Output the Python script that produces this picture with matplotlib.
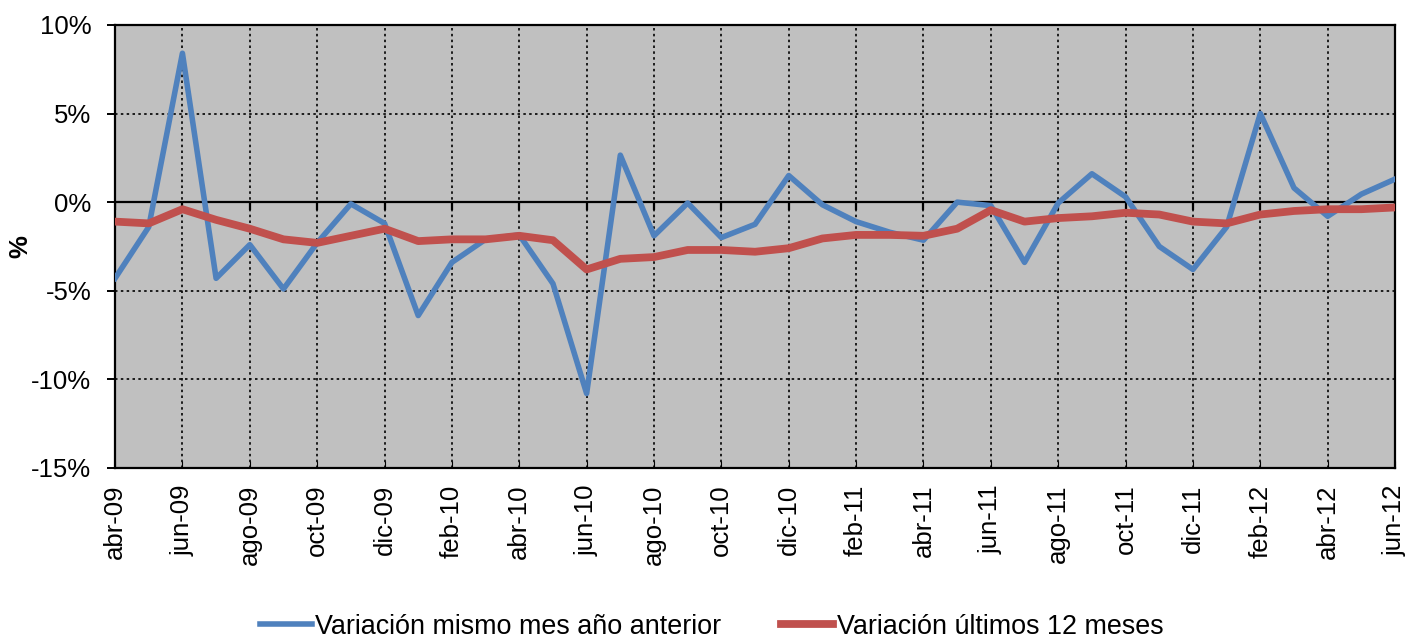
import numpy as np
import matplotlib
matplotlib.use('Agg')
import matplotlib.pyplot as plt

plt.rcParams['font.family'] = ['Liberation Sans', 'DejaVu Sans']

# Month labels (every month), only every second one is shown on the axis
months = ['abr-09', 'may-09', 'jun-09', 'jul-09', 'ago-09', 'sep-09', 'oct-09', 'nov-09', 'dic-09',
          'ene-10', 'feb-10', 'mar-10', 'abr-10', 'may-10', 'jun-10', 'jul-10', 'ago-10', 'sep-10',
          'oct-10', 'nov-10', 'dic-10', 'ene-11', 'feb-11', 'mar-11', 'abr-11', 'may-11', 'jun-11',
          'jul-11', 'ago-11', 'sep-11', 'oct-11', 'nov-11', 'dic-11', 'ene-12', 'feb-12', 'mar-12',
          'abr-12', 'may-12', 'jun-12']

# Variación mismo mes año anterior (%)
var_mes = [-4.3, -1.4, 8.4, -4.3, -2.4, -4.9, -2.3, -0.1, -1.2,
           -6.4, -3.4, -2.1, -1.85, -4.6, -10.8, 2.65, -1.9, -0.05,
           -2.0, -1.25, 1.5, -0.15, -1.1, -1.7, -2.15, 0.0, -0.2,
           -3.4, -0.05, 1.6, 0.3, -2.5, -3.8, -1.4, 5.0, 0.8,
           -0.8, 0.45, 1.3]

# Variación últimos 12 meses (%)
var_12m = [-1.1, -1.2, -0.4, -1.0, -1.5, -2.1, -2.3, -1.9, -1.5,
           -2.2, -2.1, -2.1, -1.9, -2.15, -3.8, -3.2, -3.1, -2.7,
           -2.7, -2.8, -2.6, -2.05, -1.85, -1.85, -1.9, -1.5, -0.45,
           -1.1, -0.9, -0.8, -0.6, -0.7, -1.1, -1.2, -0.7, -0.5,
           -0.4, -0.4, -0.3]

y_ticks = [-15, -10, -5, 0, 5, 10]

x = np.arange(len(months))

fig = plt.figure(figsize=(14.1, 6.38), dpi=100)
ax = fig.add_axes([0.0816, 0.2665, 0.9078, 0.6945])
ax.set_facecolor('#C0C0C0')

ax.plot(x, var_mes, color='#4F81BD', lw=4.0, label='Variación mismo mes año anterior', zorder=4)
ax.plot(x, var_12m, color='#C0504D', lw=5.6, label='Variación últimos 12 meses', zorder=5)

ax.set_xlim(0, len(months) - 1)
ax.set_ylim(-15, 10)

major = x[::2]
ax.set_xticks(major)
ax.set_xticklabels([months[i] for i in major], rotation=90, fontsize=18.5)
ax.set_yticks(y_ticks)
ax.set_yticklabels(['%d%%' % v for v in y_ticks], fontsize=18.5)
ax.tick_params(axis='x', direction='in', length=5, pad=12, color='black')
ax.tick_params(axis='y', direction='out', length=6, width=1.4, pad=11)

ax.grid(True, color='black', linestyle=(0, (1.5, 2)), linewidth=1.2, zorder=1)
ax.set_axisbelow(True)

# horizontal axis crossing at zero with its tick marks
ax.axhline(0, color='black', lw=1.6, zorder=3)
ax.vlines(major, -0.45, 0, color='black', lw=1.6, zorder=3)

for s in ax.spines.values():
    s.set_color('black')
    s.set_linewidth(1.6)

ax.set_ylabel('%', fontsize=18.5, fontweight='bold')
ax.yaxis.set_label_coords(-0.0648, 0.5)

fig.legend(loc='center', bbox_to_anchor=(0.5046, 0.018), ncol=2, frameon=False,
           fontsize=19.4, handlelength=1.95, handletextpad=0.12, columnspacing=2.2,
           borderpad=0, borderaxespad=0)

fig.savefig('out.png', dpi=100, facecolor='white')
